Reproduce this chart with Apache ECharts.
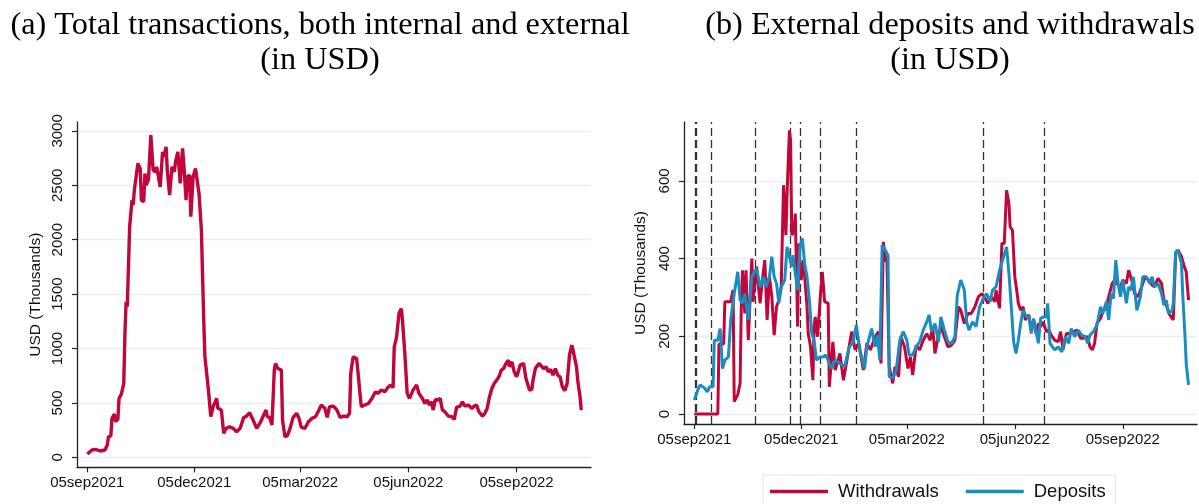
<!DOCTYPE html>
<html><head><meta charset="utf-8">
<script src="https://cdn.jsdelivr.net/npm/echarts@6/dist/echarts.min.js"></script>
<style>html,body{margin:0;padding:0;background:#fff}#c{width:1199px;height:504px}</style>
</head><body><div id="c"></div>
<script>
// ---------------- data (x = days since 05sep2021) ----------------
const startDate = '2021-09-05';
const totalDays = [0,4,7,11,15,17,18,20,21,23,24,26,27,29,31,32,33,34,36,38,39,40,41,43,45,46,48,49,50,52,54,56,58,59,62,64,65,67,68,70,72,74,75,77,79,81,82,84,85,87,88,90,92,93,95,97,99,100,101,103,105,107,110,111,114,116,118,121,124,127,130,133,135,138,141,144,147,150,152,153,155,157,159,160,162,165,166,168,170,172,175,178,180,182,185,188,191,194,197,199,202,204,206,209,212,215,218,221,223,224,226,229,230,232,233,236,239,242,245,247,250,253,256,258,260,261,263,265,267,268,270,272,274,277,280,282,285,287,289,291,293,294,296,298,300,302,304,307,310,312,314,317,319,321,324,327,329,331,333,336,338,340,342,344,346,348,350,352,354,356,358,359,361,363,365,366,368,371,373,374,376,378,379,381,384,385,388,390,392,394,396,398,400,402,404,406,408,410,412,413,416,417,419,420];
const totalValues = [30,67,73,58,67,113,190,196,358,398,328,349,542,582,680,1139,1430,1384,2119,2364,2318,2456,2440,2700,2655,2364,2349,2609,2502,2548,2961,2640,2624,2670,2486,2808,2762,2854,2640,2410,2670,2624,2716,2808,2517,2839,2701,2364,2578,2594,2211,2578,2655,2655,2425,2088,1262,925,910,618,373,465,541,450,434,220,266,281,266,235,266,367,373,410,342,266,318,388,434,373,367,297,801,862,816,801,342,190,196,251,367,404,358,275,266,327,358,373,434,480,450,367,465,471,440,367,379,373,404,771,923,908,801,572,465,480,495,541,602,587,618,602,648,664,640,1015,1107,1321,1367,1260,954,587,541,618,664,587,541,495,526,480,511,434,532,526,541,434,419,379,373,349,459,471,511,471,480,449,471,480,419,379,404,449,557,633,679,709,740,801,816,862,893,832,878,786,740,771,847,862,725,709,618,624,709,816,862,847,816,832,786,807,755,816,755,740,648,612,679,939,1031,985,832,709,557,434];

const withdrawalDays = [0,20,21,25,26,31,33,34,37,39,40,41,43,44,46,49,50,53,56,58,60,62,64,66,68,70,72,74,76,78,79,81,82,83,85,86,88,89,91,93,94,96,97,99,101,102,103,105,107,109,111,114,115,118,120,124,127,130,134,137,140,144,147,150,154,157,159,161,163,164,166,169,171,174,176,179,182,184,186,189,192,195,198,201,203,205,208,210,213,216,219,222,225,227,230,233,236,239,242,245,247,250,253,256,257,260,262,264,266,268,269,271,273,275,276,278,280,282,285,287,289,291,293,295,297,300,302,304,307,310,312,314,317,320,323,326,329,331,335,337,339,341,343,346,348,351,353,356,358,361,363,365,368,370,373,375,378,381,384,387,390,392,395,398,400,402,405,408,410,412,415,417,419,421];
const withdrawalValues = [0,0,180,180,289,289,319,32,50,79,276,370,259,370,190,400,289,379,285,345,396,242,353,302,203,276,293,327,589,460,567,730,704,460,473,516,225,439,345,396,353,276,207,173,87,225,250,199,289,366,289,285,70,186,113,156,87,139,212,165,182,113,182,165,199,212,130,443,392,405,122,79,122,96,199,173,117,147,100,177,165,190,207,190,225,156,203,225,199,173,177,190,276,267,233,259,259,276,302,310,302,285,302,289,319,272,439,439,576,542,482,473,353,310,285,267,276,242,255,216,242,207,233,225,237,212,216,203,190,186,212,165,207,207,212,216,195,195,199,173,165,182,233,246,263,276,302,336,345,332,327,345,336,370,340,310,302,327,353,345,332,327,349,336,293,280,255,242,413,422,405,383,366,293];

const depositDays = [0,3,5,9,11,13,16,17,20,22,24,26,29,31,34,37,39,41,43,46,49,51,53,55,56,59,61,64,66,68,70,72,74,77,79,81,83,84,86,88,90,92,94,96,98,100,102,104,107,110,112,115,117,120,124,128,132,135,138,141,145,147,151,154,156,158,160,162,165,166,169,172,175,178,181,183,186,189,192,195,198,200,202,205,208,210,213,216,219,222,224,227,230,232,234,237,240,243,246,249,252,254,257,260,263,266,268,270,272,274,276,278,280,283,285,287,289,291,293,295,297,300,301,303,305,307,310,313,316,319,321,324,327,330,333,335,337,340,343,346,348,351,353,355,357,359,361,363,365,368,370,372,374,377,380,382,385,388,390,392,395,398,400,402,404,407,408,410,412,415,416,418,419,421];
const depositValues = [36,62,75,66,57,70,70,190,190,220,117,139,147,242,310,366,293,285,310,242,353,366,374,345,327,353,327,353,405,353,336,285,327,345,430,405,379,409,362,319,430,452,387,353,293,207,190,139,147,147,152,130,117,139,130,122,173,182,229,165,117,173,220,173,203,139,435,426,409,96,92,113,190,212,190,152,152,173,186,216,237,255,212,233,186,250,216,186,182,199,306,345,319,237,216,237,225,276,297,310,289,319,327,370,400,430,362,276,186,156,190,233,267,250,250,207,246,216,182,246,250,250,285,182,173,165,173,160,199,182,220,199,216,203,199,182,203,212,229,276,259,289,242,310,297,396,336,302,345,285,327,319,353,267,302,353,353,336,353,327,336,310,280,293,259,267,285,417,422,387,310,199,130,75];

const eventDates = ['2021-09-06','2021-09-07','2021-09-19','2021-10-27','2021-11-26','2021-12-04','2021-12-21','2022-01-21','2022-05-09','2022-06-30'];
const xTickDates = ['2021-09-05','2021-12-05','2022-03-05','2022-06-05','2022-09-05'];
const leftYTicks = [0,500,1000,1500,2000,2500,3000];
const rightYTicks = [0,200,400,600];
const titleA = '(a) Total transactions, both internal and external\n(in USD)';
const titleB = '(b) External deposits and withdrawals\n(in USD)';
const yName = 'USD (Thousands)';
const seriesNames = ['Total', 'Withdrawals', 'Deposits'];

// ---------------- build ----------------
const DAY = 86400000;
const toMs = s => { const p = s.split('-').map(Number); return Date.UTC(p[0], p[1]-1, p[2]); };
const t0 = toMs(startDate);
const pairs = (days, vals) => days.map((d, i) => [t0 + d * DAY, vals[i]]);
const MON = ['jan','feb','mar','apr','may','jun','jul','aug','sep','oct','nov','dec'];
const fmt = v => { const d = new Date(v); return String(d.getUTCDate()).padStart(2,'0') + MON[d.getUTCMonth()] + d.getUTCFullYear(); };
const xTicks = xTickDates.map(toMs);

const RED = '#c0063b', BLUE = '#1a8dc0', AX = '#222', GRID = '#e6eff1';
const SANS = 'Liberation Sans';

function xAxis(gi, minD, maxD) {
  return {
    type: 'value', gridIndex: gi, min: t0 + minD * DAY, max: t0 + maxD * DAY, scale: true,
    axisLine: {show: true, onZero: false, lineStyle: {color: AX, width: 1.3}},
    axisTick: {show: true, customValues: xTicks, length: 5, lineStyle: {color: AX, width: 1.2}},
    axisLabel: {show: true, customValues: xTicks, formatter: fmt, fontFamily: SANS, fontSize: 15, color: '#111', margin: 8, hideOverlap: false},
    splitLine: {show: false}, minorTick: {show: false}
  };
}
function yAxis(gi, min, max, ticks, nameGap, margin) {
  return {
    type: 'value', gridIndex: gi, min, max,
    name: yName, nameLocation: 'middle', nameGap, nameRotate: 90,
    nameTextStyle: {fontFamily: SANS, fontSize: 15.5, color: '#111'},
    axisLine: {show: true, onZero: false, lineStyle: {color: AX, width: 1.3}},
    axisTick: {show: true, customValues: ticks, length: 5, lineStyle: {color: AX, width: 1.2}},
    axisLabel: {show: true, customValues: ticks, rotate: 90, formatter: v => String(v), fontFamily: SANS, fontSize: 15, color: '#111', margin},
    splitLine: {show: true, lineStyle: {color: GRID, width: 1.3}}
  };
}

const TITLE_STYLE = {fontFamily: 'Liberation Serif', fontWeight: 'normal', fontSize: 32.3, lineHeight: 35, color: '#000'};
const chart = echarts.init(document.getElementById('c'), null, {renderer: 'canvas'});
chart.setOption({
  animation: false,
  backgroundColor: '#fff',
  title: [
    {text: titleA, left: 315, top: 3, textAlign: 'center', textStyle: TITLE_STYLE},
    {text: titleB, left: 945, top: 3, textAlign: 'center', textStyle: TITLE_STYLE}
  ],
  legend: {
    show: true, data: [seriesNames[1], seriesNames[2]],
    left: 763, top: 475, orient: 'horizontal',
    icon: 'rect', itemWidth: 58, itemHeight: 3.5, itemGap: 27,
    padding: [7, 10, 12, 7],
    borderColor: '#dde6e8', borderWidth: 1, backgroundColor: '#fff',
    textStyle: {fontFamily: SANS, fontSize: 18.5, color: '#111', padding: [0, 0, 0, 5]}
  },
  grid: [
    {left: 77, top: 122, width: 514, height: 345.3, containLabel: false},
    {left: 684, top: 122, width: 513, height: 302, containLabel: false}
  ],
  xAxis: [xAxis(0, -8.76, 428.3), xAxis(1, -8.8, 428.2)],
  yAxis: [yAxis(0, -92, 3082, leftYTicks, 33, 12), yAxis(1, -25.7, 751.6, rightYTicks, 35, 12)],
  series: [
    {name: seriesNames[0], type: 'line', xAxisIndex: 0, yAxisIndex: 0, data: pairs(totalDays, totalValues),
     showSymbol: false, symbol: 'none', lineStyle: {color: RED, width: 3.4}, itemStyle: {color: RED}, z: 3},
    {name: seriesNames[1], type: 'line', xAxisIndex: 1, yAxisIndex: 1, data: pairs(withdrawalDays, withdrawalValues),
     showSymbol: false, symbol: 'none', lineStyle: {color: RED, width: 3}, itemStyle: {color: RED}, z: 3,
     markLine: {silent: true, symbol: ['none', 'none'], label: {show: false}, z: 1,
       lineStyle: {color: '#333', width: 1.3, type: [8, 4]},
       data: eventDates.map(d => ({xAxis: toMs(d)}))}},
    {name: seriesNames[2], type: 'line', xAxisIndex: 1, yAxisIndex: 1, data: pairs(depositDays, depositValues),
     showSymbol: false, symbol: 'none', lineStyle: {color: BLUE, width: 3}, itemStyle: {color: BLUE}, z: 4}
  ]
});
</script></body></html>
